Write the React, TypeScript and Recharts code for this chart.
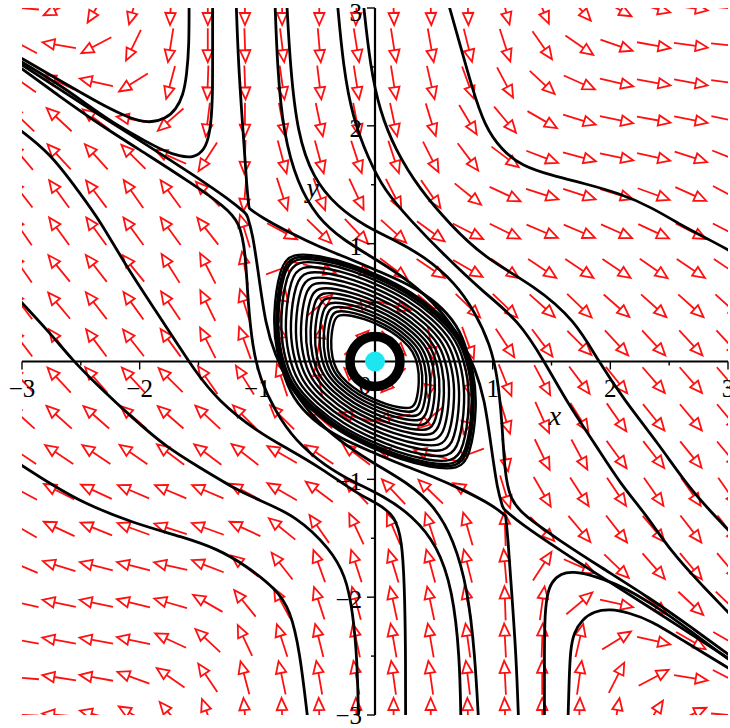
import React from "react";
import { ComposedChart, XAxis, YAxis, Line, Scatter } from "recharts";

type Pt = [number, number];

const W = 730;
const H = 728;

// direction field: degrees (0 = right, 90 = up),
// one row per grid line from y = 3 (top) down to y = -3, columns from x = -3 to 3
const arrowAngles: number[][] = [
  [175, 205, 239, 255, 268, 270, 270, 270, 270, 268, 272, 272, 272, 285, 293, 312, 331, 345, 352, 355],
  [152, 170, 208, 244, 261, 270, 272, 277, 275, 279, 279, 280, 284, 288, 305, 325, 341, 350, 352, 354],
  [145, 155, 167, 212, 255, 268, 272, 278, 277, 279, 279, 283, 290, 298, 317, 336, 347, 350, 350, 352],
  [136, 137, 143, 170, 221, 263, 270, 281, 282, 281, 282, 287, 301, 310, 330, 343, 348, 350, 349, 348],
  [130, 133, 132, 135, 156, 237, 268, 285, 285, 288, 288, 297, 307, 323, 339, 345, 348, 347, 342, 338],
  [128, 126, 127, 125, 126, 134, 265, 288, 290, 295, 297, 305, 321, 335, 342, 342, 343, 340, 336, 332],
  [125, 126, 126, 126, 126, 128, 107, 332, 316, 313, 318, 324, 333, 334, 337, 337, 336, 335, 333, 333],
  [125, 129, 128, 129, 122, 117, 100, 20, 345, 340, 323, 326, 330, 325, 326, 326, 326, 325, 326, 326],
  [127, 130, 128, 126, 124, 116, 107, 80, 40, 10, 345, 320, 316, 316, 318, 316, 319, 318, 318, 318],
  [127, 127, 127, 128, 126, 117, 110, 102, 80, 45, 315, 280, 290, 303, 307, 315, 313, 313, 313, 313],
  [133, 133, 131, 133, 135, 125, 122, 108, 100, 135, 225, 260, 283, 292, 298, 307, 309, 311, 311, 311],
  [138, 138, 139, 139, 139, 137, 135, 135, 140, 165, 190, 220, 255, 287, 294, 302, 305, 309, 310, 310],
  [146, 146, 146, 145, 143, 143, 142, 150, 146, 143, 160, 165, 200, 280, 296, 298, 306, 308, 309, 310],
  [152, 153, 155, 157, 157, 157, 152, 150, 143, 133, 133, 136, 150, 287, 300, 303, 304, 305, 305, 305],
  [150, 155, 158, 160, 162, 160, 155, 141, 125, 115, 113, 108, 106, 92, 315, 310, 308, 310, 308, 308],
  [157, 163, 166, 166, 167, 159, 142, 128, 110, 108, 107, 105, 104, 95, 57, 336, 316, 311, 310, 310],
  [167, 168, 168, 166, 164, 150, 129, 118, 108, 105, 102, 102, 102, 92, 82, 40, 347, 320, 317, 316],
  [170, 170, 170, 168, 155, 137, 115, 108, 104, 102, 100, 100, 98, 93, 88, 77, 32, 347, 330, 330],
  [175, 171, 170, 160, 145, 124, 105, 102, 100, 100, 98, 98, 97, 93, 90, 82, 63, 28, 351, 333],
  [178, 175, 165, 150, 130, 110, 95, 92, 92, 92, 90, 90, 92, 92, 90, 88, 80, 57, 25, 355],
];

const xTickValues = [-3, -2, -1, 1, 2, 3];
const xTickText = ["−3", "−2", "−1", "1", "2", "3"];
const yTickValues = [3, 2, 1, -1, -2, -3];
const yTickText = ["3", "2", "1", "−1", "−2", "−3"];
const minorTicks = [-2.5, -1.5, -0.5, 0.5, 1.5, 2.5];

// solution curves
const trajA: Pt[] = [[-1.58, 3.05], [-1.58, 2.68], [-1.6, 2.43], [-1.63, 2.26], [-1.69, 2.14], [-1.78, 2.06], [-1.9, 2.03], [-2.0, 2.04], [-2.14, 2.09], [-2.34, 2.19], [-2.62, 2.35], [-3.05, 2.6]];
const trajA2: Pt[] = [[1.64, -3.05], [1.65, -2.7], [1.66, -2.45], [1.69, -2.3], [1.76, -2.19], [1.86, -2.12], [2.0, -2.1], [2.15, -2.13], [2.35, -2.2], [2.62, -2.37], [3.05, -2.63]];
const trajB: Pt[] = [[-1.38, 3.05], [-1.38, 2.55], [-1.38, 2.22], [-1.4, 1.94], [-1.45, 1.79], [-1.54, 1.73], [-1.66, 1.74], [-1.8, 1.79], [-1.95, 1.87], [-2.17, 1.99], [-2.42, 2.16], [-2.68, 2.35], [-3.05, 2.57]];
const trajB2: Pt[] = [[1.44, -3.05], [1.44, -2.6], [1.44, -2.2], [1.46, -1.98], [1.5, -1.87], [1.58, -1.8], [1.68, -1.78], [1.87, -1.82], [2.05, -1.89], [2.21, -1.97], [2.45, -2.12], [2.63, -2.25], [3.05, -2.56]];
const trajC: Pt[] = [[-1.18, 3.05], [-1.16, 2.5], [-1.12, 1.94], [-1.09, 1.48], [-1.07, 1.3], [-1.07, 1.3], [-0.96, 1.22], [-0.72, 1.09], [-0.47, 0.97], [-0.21, 0.87], [0.02, 0.77], [0.3, 0.65], [0.53, 0.5], [0.7, 0.31], [0.79, 0.09], [0.83, -0.2], [0.83, -0.5], [0.79, -0.74], [0.7, -0.86]];
const trajC2: Pt[] = [[1.22, -3.05], [1.2, -2.5], [1.16, -1.94], [1.13, -1.5], [1.11, -1.31], [1.11, -1.31], [1.0, -1.22], [0.75, -1.09], [0.48, -0.97], [0.21, -0.87], [-0.02, -0.77], [-0.3, -0.65], [-0.53, -0.5], [-0.7, -0.31], [-0.79, -0.09], [-0.83, 0.2], [-0.83, 0.5], [-0.79, 0.74], [-0.7, 0.86]];
const trajP1: Pt[] = [[-0.85, 3.05], [-0.83, 2.5], [-0.78, 1.94], [-0.66, 1.51], [-0.49, 1.22], [-0.27, 1.03], [0.02, 0.86], [0.31, 0.67], [0.55, 0.45], [0.74, 0.18], [0.85, -0.06], [0.93, -0.31], [0.99, -0.74], [1.04, -1.09], [1.09, -1.25], [1.09, -1.25], [1.23, -1.37], [1.57, -1.6], [1.91, -1.82], [2.34, -2.09], [2.68, -2.31], [3.05, -2.55]];
const trajP2: Pt[] = [[-0.75, 3.05], [-0.72, 2.5], [-0.66, 1.94], [-0.53, 1.56], [-0.32, 1.31], [-0.07, 1.14], [0.17, 1.03], [0.42, 0.89], [0.68, 0.67], [0.85, 0.42], [0.98, 0.14], [1.04, -0.12], [1.08, -0.5], [1.1, -0.93], [1.15, -1.18], [1.27, -1.31], [1.57, -1.52], [1.91, -1.74], [2.34, -2.01], [2.68, -2.25], [3.05, -2.52]];
const trajD: Pt[] = [[0.88, -3.05], [0.85, -2.5], [0.79, -1.94], [0.67, -1.51], [0.5, -1.22], [0.28, -1.03], [-0.02, -0.86], [-0.31, -0.67], [-0.55, -0.45], [-0.74, -0.18], [-0.85, 0.06], [-0.93, 0.31], [-0.99, 0.74], [-1.04, 1.09], [-1.09, 1.25], [-1.09, 1.25], [-1.23, 1.37], [-1.57, 1.6], [-1.91, 1.82], [-2.34, 2.09], [-2.68, 2.31], [-3.05, 2.55]];
const trajE: Pt[] = [[0.73, -3.05], [0.72, -2.5], [0.66, -1.94], [0.53, -1.56], [0.32, -1.31], [0.07, -1.14], [-0.17, -1.03], [-0.42, -0.89], [-0.68, -0.67], [-0.85, -0.42], [-0.98, -0.14], [-1.04, 0.12], [-1.08, 0.5], [-1.1, 0.93], [-1.15, 1.18], [-1.27, 1.31], [-1.57, 1.52], [-1.91, 1.74], [-2.34, 2.01], [-2.68, 2.25], [-3.05, 2.52]];
const trajF: Pt[] = [[-3.05, 1.99], [-2.76, 1.77], [-2.51, 1.43], [-2.34, 1.2], [-2.11, 0.8], [-1.85, 0.41], [-1.66, 0.12], [-1.55, -0.05], [-1.34, -0.33], [-0.98, -0.61], [-0.74, -0.74], [-0.45, -0.91], [-0.17, -1.11], [0.03, -1.21], [0.17, -1.31], [0.23, -1.52], [0.25, -1.9], [0.26, -2.4], [0.26, -3.05]];
const trajG: Pt[] = [[-3.05, 0.55], [-2.76, 0.24], [-2.57, 0.01], [-2.34, -0.22], [-2.06, -0.48], [-1.77, -0.73], [-1.49, -0.9], [-1.21, -1.07], [-0.98, -1.18], [-0.67, -1.31], [-0.38, -1.59], [-0.25, -1.82], [-0.19, -2.11], [-0.15, -2.54], [-0.14, -3.05]];
const trajH: Pt[] = [[-3.05, -0.85], [-2.74, -1.05], [-2.48, -1.2], [-2.06, -1.37], [-1.63, -1.49], [-1.34, -1.59], [-1.1, -1.73], [-0.84, -1.93], [-0.72, -2.11], [-0.64, -2.45], [-0.57, -3.05]];
const trajJ: Pt[] = [[-0.32, 3.05], [-0.27, 2.5], [-0.19, 2.07], [-0.06, 1.73], [0.08, 1.45], [0.3, 1.2], [0.59, 0.9], [0.93, 0.58], [1.22, 0.35], [1.44, 0.0], [1.64, -0.36], [1.87, -0.7], [2.1, -1.06], [2.29, -1.28], [2.52, -1.62], [2.78, -1.9], [3.05, -2.18]];
const trajK: Pt[] = [[-0.1, 3.05], [-0.04, 2.5], [0.04, 2.13], [0.17, 1.8], [0.38, 1.46], [0.64, 1.16], [0.93, 0.88], [1.36, 0.64], [1.7, 0.35], [1.9, 0.0], [2.12, -0.33], [2.41, -0.7], [2.66, -1.06], [2.86, -1.28], [3.05, -1.48]];
const trajL: Pt[] = [[0.62, 3.05], [0.72, 2.7], [0.82, 2.34], [0.93, 2.0], [1.08, 1.79], [1.25, 1.66], [1.5, 1.58], [1.78, 1.51], [2.07, 1.43], [2.35, 1.31], [2.63, 1.14], [2.85, 1.03], [3.05, 0.92]];

// outer loop of the spiral around the origin, and the relative size of each turn
const loopShape: Pt[] = [[-0.81, 0.81], [-0.71, 0.92], [-0.47, 0.9], [-0.21, 0.83], [0.04, 0.73], [0.3, 0.6], [0.55, 0.41], [0.75, 0.2], [0.84, -0.08], [0.87, -0.38], [0.81, -0.81], [0.71, -0.92], [0.47, -0.9], [0.21, -0.83], [-0.04, -0.73], [-0.3, -0.6], [-0.55, -0.41], [-0.75, -0.2], [-0.84, 0.08], [-0.87, 0.38]];
const loopScales = [1.0, 0.98, 0.96, 0.93, 0.885, 0.835, 0.785, 0.735, 0.685, 0.64, 0.595, 0.55, 0.51, 0.47, 0.435];

const toPts = (p: Pt[]) => p.map(([x, y]) => ({ x, y }));

const curves = [trajA, trajA2, trajB, trajB2, trajC, trajC2, trajP1, trajP2, trajD, trajE, trajF, trajG, trajH, trajJ, trajK, trajL].map(toPts);
const loops = loopScales.map((s) => loopShape.map(([x, y]) => ({ x: x * s, y: y * s })));

const step = 6 / 19;
const arrowData = arrowAngles.flatMap((row, j) =>
  row.map((angle, i) => ({ x: -3 + i * step, y: 3 - j * step, angle }))
);

const tickData = [
  ...xTickValues.map((v) => ({ x: v, y: 0, dir: "x", major: true })),
  ...minorTicks.map((v) => ({ x: v, y: 0, dir: "x", major: false })),
  ...yTickValues.map((v) => ({ x: 0, y: v, dir: "y", major: true })),
  ...minorTicks.map((v) => ({ x: 0, y: v, dir: "y", major: false })),
];

const labelData = [
  ...xTickValues.map((v, i) => ({ x: v, y: 0, text: xTickText[i], kind: "x" })),
  ...yTickValues.map((v, i) => ({ x: 0, y: v, text: yTickText[i], kind: "y" })),
  { x: 0, y: 0, text: "0", kind: "o" },
  { x: 1.53, y: -0.54, text: "x", kind: "name" },
  { x: -0.53, y: 1.4, text: "y", kind: "name" },
];

const RED = "#ff1010";
const FONT = "'Liberation Serif', 'DejaVu Serif', serif";

function FieldArrow(props: any) {
  const { cx, cy, payload } = props;
  if (cx == null || cy == null) return <g />;
  const a = (payload.angle * Math.PI) / 180;
  const dx = Math.cos(a);
  const dy = -Math.sin(a);
  const L = 34;
  const hl = 12;
  const hw = 5.2;
  const x1 = cx - (dx * L) / 2;
  const y1 = cy - (dy * L) / 2;
  const x2 = cx + (dx * L) / 2;
  const y2 = cy + (dy * L) / 2;
  const bx = x2 - dx * hl;
  const by = y2 - dy * hl;
  return (
    <g stroke={RED} strokeWidth={1.8} fill="none" strokeLinejoin="miter">
      <line x1={x1} y1={y1} x2={bx} y2={by} />
      <polygon points={`${x2},${y2} ${bx - dy * hw},${by + dx * hw} ${bx + dy * hw},${by - dx * hw}`} />
    </g>
  );
}

function TickMark(props: any) {
  const { cx, cy, payload } = props;
  if (cx == null || cy == null) return <g />;
  const len = payload.major ? 8 : 4;
  if (payload.dir === "x") {
    return <line x1={cx} y1={cy} x2={cx} y2={cy + len} stroke="#000" strokeWidth={1.4} />;
  }
  return <line x1={cx} y1={cy} x2={cx - len} y2={cy} stroke="#000" strokeWidth={1.4} />;
}

function TickText(props: any) {
  const { cx, cy, payload } = props;
  if (cx == null || cy == null) return <g />;
  const common = { fontFamily: FONT, fill: "#000" };
  if (payload.kind === "x") {
    return <text x={cx} y={cy + 35} textAnchor="middle" fontSize={25} {...common}>{payload.text}</text>;
  }
  if (payload.kind === "y") {
    const dy = payload.y > 2.5 ? 13 : payload.y < -2.5 ? 9 : 11;
    return <text x={cx - 13} y={cy + dy} textAnchor="end" fontSize={25} {...common}>{payload.text}</text>;
  }
  if (payload.kind === "o") {
    return <text x={cx - 10} y={cy + 32} textAnchor="middle" fontSize={25} {...common}>{payload.text}</text>;
  }
  return <text x={cx} y={cy} textAnchor="middle" fontSize={28} fontStyle="italic" {...common}>{payload.text}</text>;
}

function CenterRing(props: any) {
  const { cx, cy } = props;
  if (cx == null || cy == null) return <g />;
  return <circle cx={cx} cy={cy} r={25} fill="none" stroke="#000" strokeWidth={9.5} />;
}

function CenterDot(props: any) {
  const { cx, cy } = props;
  if (cx == null || cy == null) return <g />;
  return <circle cx={cx} cy={cy} r={10} fill="#1ee6f0" />;
}

export default function App() {
  return (
    <div style={{ position: "absolute", left: 0, top: 0, width: W, height: H, background: "#fff" }}>
      <ComposedChart width={W} height={H} margin={{ top: 8, right: 2, bottom: 13, left: 22 }}>
        <XAxis xAxisId="c" dataKey="x" type="number" domain={[-3, 3]} allowDataOverflow hide />
        <YAxis yAxisId="c" dataKey="y" type="number" domain={[-3, 3]} allowDataOverflow hide />
        <XAxis xAxisId="u" dataKey="x" type="number" domain={[-3, 3]} hide />
        <YAxis yAxisId="u" dataKey="y" type="number" domain={[-3, 3]} hide />

        <Scatter xAxisId="c" yAxisId="c" data={arrowData} shape={FieldArrow} isAnimationActive={false} zIndex={100} />
        <Scatter xAxisId="u" yAxisId="u" data={labelData} shape={TickText} isAnimationActive={false} zIndex={150} />

        {curves.map((pts, i) => (
          <Line
            key={`c${i}`}
            xAxisId="c"
            yAxisId="c"
            data={pts}
            dataKey="y"
            type="basis"
            stroke="#000"
            strokeWidth={2.8}
            dot={false}
            activeDot={false}
            isAnimationActive={false}
            zIndex={200}
          />
        ))}
        {loops.map((pts, i) => (
          <Line
            key={`l${i}`}
            xAxisId="c"
            yAxisId="c"
            data={pts}
            dataKey="y"
            type="basisClosed"
            stroke="#000"
            strokeWidth={2.4}
            dot={false}
            activeDot={false}
            isAnimationActive={false}
            zIndex={210}
          />
        ))}

        <Scatter xAxisId="u" yAxisId="u" data={[{ x: 0, y: 0 }]} shape={CenterRing} isAnimationActive={false} zIndex={300} />

        <Line xAxisId="u" yAxisId="u" data={[{ x: -3, y: 0 }, { x: 3, y: 0 }]} dataKey="y" type="linear" stroke="#000" strokeWidth={2.2} dot={false} activeDot={false} isAnimationActive={false} zIndex={350} />
        <Line xAxisId="u" yAxisId="u" data={[{ x: 0, y: -3 }, { x: 0, y: 3 }]} dataKey="y" type="linear" stroke="#000" strokeWidth={2.2} dot={false} activeDot={false} isAnimationActive={false} zIndex={350} />
        <Scatter xAxisId="u" yAxisId="u" data={tickData} shape={TickMark} isAnimationActive={false} zIndex={360} />

        <Scatter xAxisId="u" yAxisId="u" data={[{ x: 0, y: 0 }]} shape={CenterDot} isAnimationActive={false} zIndex={400} />
      </ComposedChart>
    </div>
  );
}
